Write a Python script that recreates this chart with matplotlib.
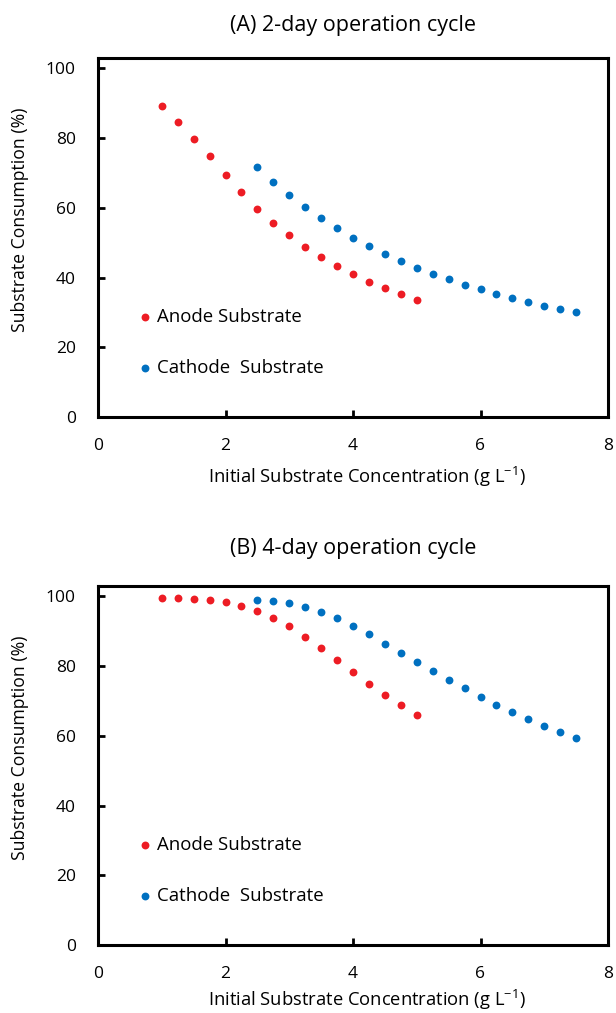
import matplotlib
matplotlib.use("Agg")
import matplotlib.pyplot as plt

plt.rcParams['font.family'] = ['Open Sans', 'DejaVu Sans']

# Panel A: 2-day operation cycle
anode_x_a = [1.0, 1.25, 1.5, 1.75, 2.0, 2.25, 2.5, 2.75, 3.0, 3.25, 3.5, 3.75, 4.0, 4.25, 4.5, 4.75, 5.0]
anode_y_a = [89.1, 84.7, 79.8, 74.8, 69.3, 64.6, 59.8, 55.8, 52.1, 48.9, 45.8, 43.4, 40.9, 38.8, 37.1, 35.2, 33.7]
cathode_x_a = [2.5, 2.75, 3.0, 3.25, 3.5, 3.75, 4.0, 4.25, 4.5, 4.75, 5.0, 5.25, 5.5, 5.75, 6.0, 6.25, 6.5, 6.75, 7.0, 7.25, 7.5]
cathode_y_a = [71.6, 67.5, 63.7, 60.3, 57.0, 54.1, 51.4, 49.0, 46.7, 44.7, 42.8, 41.1, 39.5, 37.9, 36.6, 35.3, 34.1, 33.0, 31.9, 30.9, 30.0]

# Panel B: 4-day operation cycle
anode_x_b = [1.0, 1.25, 1.5, 1.75, 2.0, 2.25, 2.5, 2.75, 3.0, 3.25, 3.5, 3.75, 4.0, 4.25, 4.5, 4.75, 5.0]
anode_y_b = [99.7, 99.5, 99.3, 98.9, 98.4, 97.4, 95.9, 93.8, 91.4, 88.4, 85.3, 81.8, 78.4, 74.9, 71.6, 68.9, 66.0]
cathode_x_b = [2.5, 2.75, 3.0, 3.25, 3.5, 3.75, 4.0, 4.25, 4.5, 4.75, 5.0, 5.25, 5.5, 5.75, 6.0, 6.25, 6.5, 6.75, 7.0, 7.25, 7.5]
cathode_y_b = [99.1, 98.6, 98.0, 96.9, 95.5, 93.7, 91.5, 89.1, 86.5, 83.9, 81.2, 78.5, 75.9, 73.6, 71.2, 69.0, 66.9, 64.7, 62.9, 61.1, 59.3]

titles = ["(A) 2-day operation cycle", "(B) 4-day operation cycle"]
series_labels = ["Anode Substrate", "Cathode  Substrate"]
xticks = [0, 2, 4, 6, 8]
yticks = [0, 20, 40, 60, 80, 100]

RED = "#ED1C24"
BLUE = "#0070C0"

W, H = 616, 1013
fig = plt.figure(figsize=(W / 100, H / 100), dpi=100)

# axes rectangles in pixels: left, top, right, bottom
rects = [(98, 58, 608, 417), (98, 586, 608, 945)]
data = [(anode_x_a, anode_y_a, cathode_x_a, cathode_y_a),
        (anode_x_b, anode_y_b, cathode_x_b, cathode_y_b)]
title_y = [25, 548]
xlabel_base = [483, 1006]
ylabel_y = [220, 748]

for i in range(2):
    l, t, r, b = rects[i]
    ax = fig.add_axes([l / W, 1 - b / H, (r - l) / W, (b - t) / H])
    ax_, ay_, cx_, cy_ = data[i]
    ax.scatter(ax_, ay_, s=32, color=RED, label=series_labels[0], zorder=3, linewidths=0)
    ax.scatter(cx_, cy_, s=32, color=BLUE, label=series_labels[1], zorder=3, linewidths=0)
    ax.set_xlim(0, 8)
    ax.set_ylim(0, 103)
    ax.set_xticks(xticks)
    ax.set_yticks(yticks)
    ax.tick_params(direction='in', length=5, width=2, labelsize=12.5)
    ax.tick_params(axis='x', pad=15)
    ax.tick_params(axis='y', pad=16)
    for sp in ax.spines.values():
        sp.set_linewidth(2.2)
        sp.set_color('black')
    fig.text(20 / W, 1 - ylabel_y[i] / H, "Substrate Consumption (%)",
             rotation=90, ha='center', va='center', fontsize=12.7)
    fig.text(367 / W, 1 - xlabel_base[i] / H,
             "Initial Substrate Concentration (g L$^{\\mathregular{-1}}$)",
             ha='center', va='baseline', fontsize=13.2)
    fig.text(353 / W, 1 - title_y[i] / H, titles[i],
             ha='center', va='center', fontsize=15.5)
    ax.legend(loc='center left', bbox_to_anchor=(0.059, 0.207), frameon=False,
              fontsize=13.4, handlelength=1.0, handletextpad=0.15, labelspacing=1.76,
              borderaxespad=0, scatterpoints=1)

fig.savefig("out.png", dpi=100)
